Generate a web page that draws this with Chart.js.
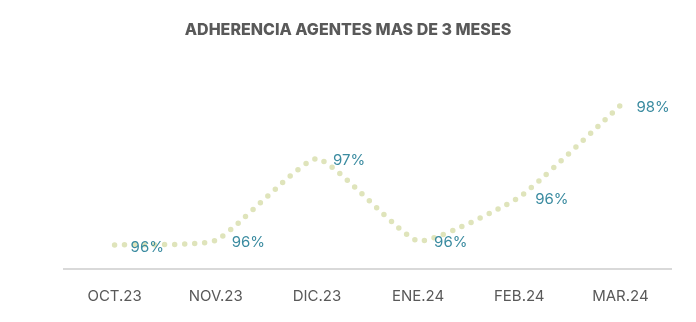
<!DOCTYPE html>
<html>
<head>
<meta charset="utf-8">
<script src="https://cdn.jsdelivr.net/npm/chart.js@4"></script>
<style>
  html, body { margin: 0; padding: 0; background: #fff; }
  #wrap { width: 696px; height: 322px; }
</style>
</head>
<body>
<div id="wrap"><canvas id="myChart" width="696" height="322"></canvas></div>
<script>
// Datos del gráfico
const meses = ['OCT.23', 'NOV.23', 'DIC.23', 'ENE.24', 'FEB.24', 'MAR.24'];
const adherencia = [95.61, 95.69, 97.09, 95.68, 96.43, 98.0];
const titulo = 'ADHERENCIA AGENTES MAS DE 3 MESES';

// Etiquetas de datos a la derecha de cada punto
const etiquetas = {
    id: 'etiquetas',
    afterDatasetsDraw(chart) {
        const ctx = chart.ctx;
        const meta = chart.getDatasetMeta(0);
        ctx.save();
        ctx.font = '15px Inter, "Open Sans", sans-serif';
        ctx.fillStyle = '#3a8ba0';
        ctx.textAlign = 'left';
        ctx.textBaseline = 'middle';
        meta.data.forEach((p, i) => {
            ctx.fillText(Math.round(adherencia[i]) + '%', p.x + 16, p.y + 2);
        });
        ctx.restore();
    }
};

const ctx = document.getElementById('myChart').getContext('2d');
new Chart(ctx, {
    type: 'line',
    data: {
        labels: meses,
        datasets: [{
            data: adherencia,
            borderColor: '#dfe4bb',
            borderWidth: 5.5,
            borderDash: [0, 10],
            borderCapStyle: 'round',
            tension: 0.15,
            pointRadius: 0,
            fill: false
        }]
    },
    options: {
        responsive: false,
        animation: false,
        layout: { padding: { left: 25, right: 25, top: 0, bottom: 0 } },
        plugins: {
            legend: { display: false },
            tooltip: { enabled: false },
            title: {
                display: true,
                text: titulo,
                color: '#595959',
                font: { family: 'Inter, "Open Sans", sans-serif', size: 16, weight: 800 },
                padding: { top: 21, bottom: 36 }
            }
        },
        scales: {
            x: {
                offset: true,
                grid: { display: false },
                border: { display: true, color: '#d9d9d9', width: 2 },
                ticks: {
                    color: '#595959',
                    padding: 10,
                    font: { family: 'Inter, "Open Sans", sans-serif', size: 15 }
                },
                afterFit(scale) { scale.height = 53; }
            },
            y: {
                display: true,
                min: 95.2,
                max: 98.5,
                grid: { display: false },
                border: { display: false },
                ticks: { display: false },
                afterFit(scale) { scale.width = 39; }
            }
        }
    },
    plugins: [etiquetas]
});
</script>
</body>
</html>
